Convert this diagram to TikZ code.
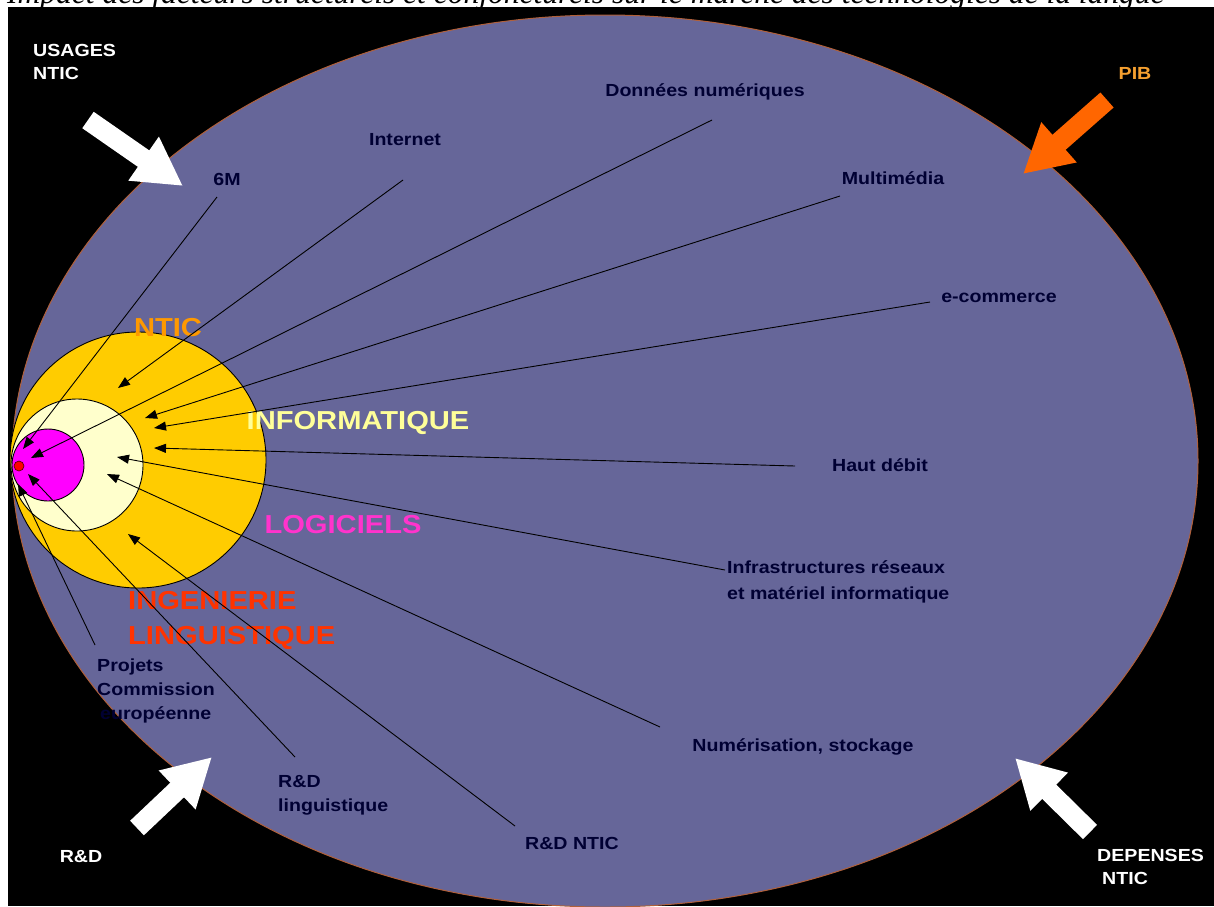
\documentclass[tikz,border=0pt]{standalone}
\usepackage{fontspec}
\setmainfont{Liberation Sans}
\newfontfamily\labfont[FakeStretch=1.12]{Liberation Sans}
\newfontfamily\titfont{Liberation Serif}
\usetikzlibrary{arrows.meta}
\definecolor{ellfill}{HTML}{666699}
\definecolor{ellline}{HTML}{B0603A}
\definecolor{nticc}{HTML}{FFCC00}
\definecolor{infoc}{HTML}{FFFFCC}
\definecolor{logc}{HTML}{FF00FF}
\definecolor{navy}{HTML}{000033}
\definecolor{nticlab}{HTML}{FF9900}
\definecolor{infolab}{HTML}{FFFF99}
\definecolor{loglab}{HTML}{FF33CC}
\definecolor{inglab}{HTML}{FF3300}
\definecolor{piblab}{HTML}{F5A030}
\definecolor{pibarrow}{HTML}{FF6600}
\begin{document}
\begin{tikzpicture}[x=1pt,y=-1pt,
  lab/.style={font=\labfont\bfseries\fontsize{17.5}{24}\selectfont, text=navy, inner sep=0pt, align=left},
  corner/.style={font=\labfont\bfseries\fontsize{17.5}{23.5}\selectfont, text=white, inner sep=0pt, align=left},
  big/.style={font=\labfont\bfseries\fontsize{26}{35}\selectfont, inner sep=0pt, align=left},
  conn/.style={draw=black, line width=0.9pt, -{Triangle[length=12pt,width=9pt]}},
  blockarrow/.style={line width=20pt, -{Triangle[length=48pt,width=50pt]}}]
\useasboundingbox (0,0) rectangle (1214,906);
\fill[white] (0,0) rectangle (1214,906);
\fill[black] (8,7) rectangle (1214,906);
\begin{scope}
  \clip (0,0) rectangle (1214,906);
  \node[anchor=base west, inner sep=0pt, font=\titfont\itshape\fontsize{31.5}{33}\selectfont] (title) at (7,3)
    {Impact des facteurs structurels et conjoncturels sur le marché des technologies de la langue};
  \fill[black] (8,7) rectangle (1214,906);
  % big ellipse
  \draw[fill=ellfill, draw=ellline, line width=1pt] (605,461) ellipse [x radius=593, y radius=446];
\end{scope}
% circles
\draw[fill=nticc, draw=black, line width=0.9pt] (138,460) circle [radius=128];
\draw[fill=infoc, draw=black, line width=0.9pt] (77,465) circle [radius=66];
\draw[fill=logc, draw=black, line width=0.9pt] (48,465) circle [radius=36];
\draw[fill=red, draw=black!70!red, line width=0.6pt] (19,466) circle [radius=5];

% big labels
\node[big, text=nticlab] (lntic) at (168,328) {NTIC};
\node[big, text=infolab] (linfo) at (358,423) {INFORMATIQUE};
\node[big, text=loglab] (llog) at (343,525) {LOGICIELS};
\node[big, text=inglab, anchor=north west] (ling) at (128,591) {INGENIERIE\\LINGUISTIQUE};

% small labels
\node[lab] (n6M) at (227,179) {6M};
\node[lab] (nint) at (405,140) {Internet};
\node[lab] (ndon) at (705,92) {Données numériques};
\node[lab] (nmul) at (893,178) {Multimédia};
\node[lab] (necom) at (999,298) {e-commerce};
\node[lab] (nhaut) at (880,465) {Haut débit};
\node[lab, anchor=north west, font=\labfont\bfseries\fontsize{17.5}{26}\selectfont] (ninfra) at (727,560) {Infrastructures réseaux\\et matériel informatique};
\node[lab] (nnum) at (803,747) {Numérisation, stockage};
\node[lab] (nrdn) at (572,843) {R\&D NTIC};
\node[lab, anchor=north west] (nrdl) at (278,775) {R\&D\\linguistique};
\node[lab, anchor=north west] (nproj) at (97,659) {Projets\\Commission\\\hspace*{3pt}européenne};

% corner labels
\node[corner, anchor=north west] (cusage) at (33,44) {USAGES\\NTIC};
\node[corner, text=piblab] (cpib) at (1135,73) {PIB};
\node[corner] (crd) at (81,857) {R\&D};
\node[corner, anchor=north west] (cdep) at (1097,849) {DEPENSES\\\hspace*{5pt}NTIC};

% connector endpoints
\coordinate (s6M) at (217,197);   \coordinate (t6M) at (23,449);
\coordinate (sint) at (403,180);  \coordinate (tint) at (118,388);
\coordinate (sdon) at (712,120);  \coordinate (tdon) at (31,458);
\coordinate (smul) at (840,196);  \coordinate (tmul) at (145,418);
\coordinate (secom) at (930,302); \coordinate (tecom) at (154,428);
\coordinate (shaut) at (795,466); \coordinate (thaut) at (154,448);
\coordinate (sinfra) at (725,570);\coordinate (tinfra) at (117,457);
\coordinate (snum) at (660,727);  \coordinate (tnum) at (107,474);
\coordinate (srdn) at (515,826);  \coordinate (trdn) at (128,534);
\coordinate (srdl) at (295,757);  \coordinate (trdl) at (28,474);
\coordinate (sproj) at (95,645);  \coordinate (tproj) at (18,484);

\draw[conn] (s6M) -- (t6M);
\draw[conn] (sint) -- (tint);
\draw[conn] (sdon) -- (tdon);
\draw[conn] (smul) -- (tmul);
\draw[conn] (secom) -- (tecom);
\draw[conn] (shaut) -- (thaut);
\draw[conn] (sinfra) -- (tinfra);
\draw[conn] (snum) -- (tnum);
\draw[conn] (srdn) -- (trdn);
\draw[conn] (srdl) -- (trdl);
\draw[conn] (sproj) -- (tproj);

% block arrows
\coordinate (au1) at (88,120);   \coordinate (au2) at (183,186);
\coordinate (ap1) at (1107,100); \coordinate (ap2) at (1023,174);
\coordinate (ar1) at (137,828);  \coordinate (ar2) at (212,757);
\coordinate (ad1) at (1090,832); \coordinate (ad2) at (1015,758);
\draw[blockarrow, draw=white, fill=white] (au1) -- (au2);
\draw[blockarrow, draw=pibarrow, fill=pibarrow] (ap1) -- (ap2);
\draw[blockarrow, draw=white, fill=white] (ar1) -- (ar2);
\draw[blockarrow, draw=white, fill=white] (ad1) -- (ad2);
\end{tikzpicture}
\end{document}
